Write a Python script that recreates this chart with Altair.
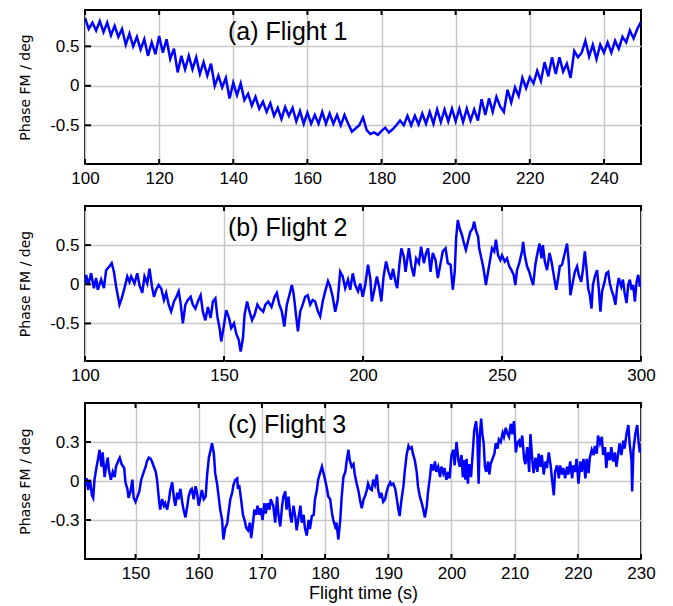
import altair as alt
import pandas as pd

# ---------------- Flight 1 ----------------
t1 = list(range(100, 251))
v1 = [0.86, 0.72, 0.80, 0.70, 0.82, 0.68, 0.80, 0.64, 0.76, 0.62,
      0.72, 0.52, 0.66, 0.50, 0.62, 0.46, 0.59, 0.38, 0.55, 0.40,
      0.63, 0.42, 0.59, 0.34, 0.47, 0.17, 0.38, 0.21, 0.38, 0.21,
      0.36, 0.15, 0.30, 0.13, 0.28, 0.00, 0.13, -0.02, 0.10, -0.16,
      0.04, -0.12, 0.03, -0.18, -0.10, -0.25, -0.14, -0.29, -0.20, -0.33,
      -0.22, -0.38, -0.28, -0.42, -0.27, -0.38, -0.28, -0.45, -0.32, -0.48,
      -0.34, -0.48, -0.37, -0.48, -0.33, -0.48, -0.35, -0.48, -0.37, -0.50,
      -0.37, -0.48, -0.58, -0.54, -0.50, -0.40, -0.56, -0.61, -0.59, -0.62,
      -0.57, -0.53, -0.59, -0.55, -0.50, -0.44, -0.50, -0.38, -0.50, -0.38,
      -0.49, -0.35, -0.48, -0.33, -0.48, -0.30, -0.46, -0.30, -0.45, -0.29,
      -0.45, -0.29, -0.46, -0.29, -0.44, -0.30, -0.44, -0.17, -0.37, -0.16,
      -0.33, -0.14, -0.26, -0.33, -0.05, -0.21, -0.02, -0.13, 0.10, -0.03,
      0.11, 0.03, 0.19, 0.06, 0.30, 0.12, 0.36, 0.15, 0.36, 0.18,
      0.28, 0.10, 0.44, 0.36, 0.42, 0.57, 0.37, 0.52, 0.34, 0.52,
      0.42, 0.55, 0.42, 0.57, 0.47, 0.62, 0.55, 0.70, 0.60, 0.72,
      0.81]

# ---------------- Flight 2 ----------------
t2 = [100.0, 100.4, 101.2, 102.2, 103.2, 104.0, 104.6, 105.8, 106.8, 107.6,
      108.8, 109.6, 110.4, 111.2, 112.4, 113.2, 114.2, 115.2, 116.0, 116.6,
      117.8, 118.8, 119.6, 120.6, 121.4, 122.4, 123.2, 124.1, 124.8, 125.6,
      126.5, 127.4, 128.4, 129.2, 130.1, 131.0, 132.0, 132.9, 133.7, 134.4,
      135.2, 136.1, 137.0, 138.0, 138.8, 139.7, 140.6, 141.6, 142.4, 143.3,
      144.2, 145.2, 146.0, 146.9, 147.6, 148.4, 149.0, 150.0, 150.8, 151.8,
      152.6, 153.6, 154.4, 155.3, 156.0, 156.8, 157.4, 158.3, 159.2, 160.1,
      161.0, 162.0, 162.9, 164.1, 164.9, 165.9, 167.1,
      168.2, 169.0, 169.9, 170.8, 171.7, 172.6, 173.5, 174.4, 175.0, 175.9,
      176.6, 177.4, 178.3, 179.2, 180.1, 181.0, 181.9, 182.8, 183.8, 184.6,
      185.5, 186.4, 187.4, 188.2, 189.1, 190.0, 190.9, 191.8, 192.7, 193.6,
      194.6, 195.4, 196.3, 197.2, 198.2, 199.0, 199.9, 200.8, 201.8, 202.6,
      203.2, 204.2, 205.0, 205.9, 206.6, 207.4, 208.3, 209.2, 210.1, 210.8,
      211.7, 212.3, 213.1, 213.8, 214.7, 215.3, 215.9, 216.5, 217.4, 218.3,
      219.1, 220.1, 220.9, 221.9, 222.7, 223.4, 224.3, 225.1, 226.1, 226.9,
      227.9, 228.7, 229.7, 230.5, 231.5, 232.3, 233.0, 233.5, 234.1, 234.8,
      235.6, 236.2, 237.0, 237.7, 238.6, 239.4, 240.0, 240.6, 241.4, 241.8,
      242.6, 243.2, 243.8, 244.2, 245.0, 245.8, 246.4, 247.2, 247.8, 248.6,
      249.4, 250.0, 251.0, 251.8, 252.6, 253.4, 254.2, 254.8, 255.4, 256.2,
      257.2, 257.6, 258.2, 259.0, 259.8, 260.6, 261.2, 262.0, 262.6, 263.5,
      264.2, 264.7, 265.4, 266.2, 267.1, 267.8, 268.6, 269.5, 270.2, 270.8,
      271.6, 272.6, 273.4, 274.0, 274.6, 275.5, 276.2, 277.0, 277.6, 278.5,
      279.1, 279.8, 280.4, 281.0, 281.6, 282.2, 282.7, 283.4, 284.2, 284.8,
      285.4, 286.0, 286.9, 287.5, 288.2, 288.8, 289.4, 290.2, 290.8, 291.4,
      292.0, 292.9, 293.5, 294.1, 294.8, 295.4, 296.0, 296.6, 297.2, 297.8,
      298.4, 299.0, 299.6, 300.0]
v2 = [0.01, 0.12, -0.01, 0.14, -0.05, 0.08, -0.07, 0.06, -0.05, 0.18,
      0.23, 0.27, 0.16, -0.03, -0.26, -0.18, -0.05, 0.10, 0.03, 0.10,
      0.01, 0.14, -0.01, -0.11, 0.10, 0.01, 0.20, -0.03, -0.16, -0.07,
      -0.01, -0.05, -0.20, -0.11, -0.26, -0.35, -0.22, -0.16, -0.09, -0.24,
      -0.50, -0.26, -0.20, -0.16, -0.26, -0.31, -0.22, -0.14, -0.35, -0.46,
      -0.29, -0.43, -0.22, -0.18, -0.41, -0.56, -0.73, -0.52, -0.33, -0.43,
      -0.56, -0.50, -0.63, -0.71, -0.86, -0.69, -0.39, -0.22, -0.35, -0.46,
      -0.39, -0.26, -0.31, -0.35, -0.26, -0.22, -0.29,
      -0.16, -0.11, -0.26, -0.35, -0.54, -0.26, -0.14, -0.01, -0.11, -0.39,
      -0.60, -0.35, -0.26, -0.16, -0.14, -0.26, -0.20, -0.22, -0.35, -0.41,
      -0.22, -0.09, 0.04, -0.03, -0.16, -0.35, -0.20, 0.16, 0.10, -0.05,
      0.06, -0.07, 0.14, -0.01, -0.09, 0.01, -0.16, -0.01, 0.25, 0.08,
      -0.22, -0.05, 0.10, -0.05, -0.22, 0.10, 0.29, 0.16, 0.06, 0.20,
      0.03, -0.05, 0.25, 0.46, 0.35, 0.16, 0.31, 0.46, 0.23, 0.10,
      0.33, 0.27, 0.48, 0.27, 0.40, 0.46, 0.16, 0.40, 0.31, 0.08,
      0.27, 0.42, 0.46, 0.27, 0.25, -0.07, 0.16, 0.59, 0.82, 0.71,
      0.63, 0.54, 0.44, 0.54, 0.67, 0.71, 0.80, 0.69, 0.61, 0.46,
      0.33, 0.23, 0.10, -0.01, 0.16, 0.33, 0.46, 0.42, 0.57, 0.37,
      0.31, 0.37, 0.29, 0.33, 0.23, 0.18, 0.12, -0.01, 0.18, 0.27,
      0.42, 0.54, 0.37, 0.23, 0.16, 0.06, -0.01, 0.25, 0.37, 0.52,
      0.33, 0.50, 0.29, 0.18, 0.40, 0.29, 0.12, -0.07, 0.08, 0.23,
      0.25, 0.40, 0.52, 0.29, -0.14, 0.03, 0.16, 0.23, 0.12, 0.03,
      0.18, 0.42, 0.20, -0.05, -0.14, -0.31, -0.01, 0.10, 0.18, -0.05,
      -0.35, -0.09, 0.03, 0.14, 0.16, 0.01, -0.07, -0.16, -0.26, -0.05,
      0.08, -0.03, 0.06, -0.11, -0.24, -0.01, 0.06, -0.07, -0.01, -0.22,
      0.03, 0.12, -0.03, 0.01]

# ---------------- Flight 3 ----------------
t3 = [142.0, 142.3, 142.5, 142.8, 143.1, 143.3, 143.5, 143.8, 144.1, 144.3,
      144.6, 144.8, 145.1, 145.4, 145.6, 145.8, 146.1, 146.4, 146.7, 146.9,
      147.3, 147.5, 147.8, 148.2, 148.4, 148.7, 148.9, 149.2, 149.5, 149.7,
      150.0, 150.3, 150.6, 150.9, 151.3, 151.6, 151.8, 152.1, 152.4, 152.6,
      152.9, 153.2, 153.4, 153.7, 153.9, 154.2, 154.5, 154.7, 155.0, 155.3,
      155.5, 155.8, 156.1, 156.3, 156.6, 156.8, 157.1, 157.4, 157.6, 157.9,
      158.2, 158.4, 158.7, 158.9, 159.2, 159.5, 159.7, 160.0, 160.3, 160.5,
      160.8, 161.1, 161.3, 161.6, 161.8, 162.1, 162.4, 162.6, 162.9, 163.2,
      163.4, 163.7, 163.9, 164.2, 164.5, 164.7, 165.0, 165.3, 165.5, 165.8,
      166.1, 166.2, 166.4, 166.7, 167.0, 167.3, 167.5, 167.8, 168.1, 168.3,
      168.6, 168.8, 169.1, 169.3, 169.6, 169.8, 170.1, 170.4, 170.6, 170.9,
      171.2, 171.4,
      171.8, 172.1, 172.4, 172.6, 172.9, 173.2, 173.4, 173.7, 173.9, 174.2,
      174.5, 174.7, 175.0, 175.3, 175.5, 175.8, 176.1, 176.3, 176.6, 176.8,
      177.1, 177.4, 177.6, 177.9, 178.2, 178.4, 178.7, 178.9, 179.2, 179.5,
      179.7, 180.0, 180.3, 180.5, 180.8, 181.1, 181.3, 181.6, 181.8, 182.1,
      182.4, 182.6, 182.9, 183.2, 183.4, 183.7, 183.9, 184.2, 184.5, 184.7,
      185.0, 185.3, 185.5, 185.8, 186.1, 186.3, 186.6, 186.8, 187.1, 187.4,
      187.6, 187.9, 188.2, 188.4, 188.7, 188.9, 189.2, 189.5, 189.7, 190.0,
      190.3, 190.5, 190.8, 191.1, 191.3, 191.6, 191.8, 192.1, 192.4, 192.6,
      192.9, 193.2, 193.4, 193.7, 193.9, 194.2, 194.5, 194.7, 195.0, 195.3,
      195.5, 195.8, 196.1, 196.3, 196.6, 196.8, 197.1, 197.4, 197.6, 197.9,
      198.2, 198.4, 198.7, 198.9, 199.2, 199.5, 199.7, 200.0, 200.3, 200.5,
      200.8, 201.1, 201.3, 201.6, 201.8,
      202.0, 202.2, 202.4, 202.6, 202.8, 203.1, 203.4, 203.6, 203.9, 204.1,
      204.3, 204.5, 204.7, 204.9, 205.1, 205.3, 205.5, 205.8, 206.0, 206.2,
      206.5, 206.8, 207.0, 207.3, 207.5, 207.8, 208.1, 208.3, 208.6, 208.8,
      209.1, 209.4, 209.6, 209.9, 210.2, 210.4, 210.7, 210.9, 211.2, 211.5,
      211.7, 212.0, 212.3, 212.5, 212.8, 213.0, 213.3, 213.6, 213.8, 214.1,
      214.3, 214.6, 214.9, 215.1, 215.4, 215.7, 215.9, 216.2, 216.4, 216.7,
      217.0, 217.2, 217.5, 217.7, 218.0, 218.3, 218.5, 218.8, 219.1, 219.3,
      219.6, 219.8, 220.1, 220.4, 220.6, 220.9, 221.2, 221.4, 221.7, 221.9,
      222.2, 222.5, 222.7, 223.0, 223.2, 223.5, 223.8, 224.0, 224.3, 224.5,
      224.8, 225.1, 225.3, 225.6, 225.9, 226.1, 226.4, 226.6, 226.9, 227.2,
      227.4, 227.7, 228.0, 228.2, 228.5, 228.6, 228.8, 229.1, 229.4, 229.6,
      229.8, 230.0]
v3 = [-0.04, 0.02, -0.07, 0.01, -0.11, -0.13, 0.01, 0.10, 0.18, 0.24,
      0.11, 0.22, 0.03, 0.13, 0.18, 0.08, 0.01, 0.07, 0.03, 0.11,
      0.16, 0.18, 0.13, 0.10, -0.01, -0.06, -0.13, -0.08, 0.01, -0.13,
      -0.16, -0.12, -0.08, 0.01, 0.07, 0.11, 0.15, 0.18, 0.17, 0.15,
      0.11, 0.07, 0.01, -0.14, -0.22, -0.14, -0.19, -0.17, -0.22, -0.14,
      -0.07, -0.01, -0.14, -0.19, -0.09, -0.14, -0.06, -0.17, -0.22, -0.28,
      -0.19, -0.12, -0.07, -0.06, -0.14, -0.04, -0.08, -0.19, -0.12, -0.07,
      -0.14, -0.12, 0.03, 0.18, 0.22, 0.29, 0.21, 0.06, -0.02, -0.14,
      -0.22, -0.30, -0.45, -0.36, -0.33, -0.25, -0.14, -0.09, -0.03, 0.01,
      0.02, -0.06, -0.03, -0.14, -0.26, -0.31, -0.36, -0.38, -0.32, -0.44,
      -0.32, -0.22, -0.26, -0.19, -0.26, -0.21, -0.30, -0.17, -0.25, -0.17,
      -0.22, -0.14,
      -0.19, -0.32, -0.12, -0.25, -0.35, -0.19, -0.12, -0.08, -0.22, -0.12,
      -0.27, -0.32, -0.19, -0.28, -0.38, -0.28, -0.19, -0.32, -0.26, -0.36,
      -0.42, -0.30, -0.37, -0.27, -0.26, -0.14, -0.07, 0.01, 0.06, 0.11,
      0.07, 0.01, -0.06, -0.12, -0.14, -0.25, -0.30, -0.35, -0.32, -0.45,
      -0.30, -0.14, 0.03, 0.07, 0.15, 0.24, 0.16, 0.11, 0.13, 0.05,
      -0.02, -0.08, -0.14, -0.21, -0.14, -0.12, -0.07, -0.02, -0.06, -0.07,
      0.01, -0.03, 0.05, -0.07, -0.13, -0.09, -0.16, -0.14, -0.09, -0.04,
      -0.01, -0.03, -0.02, -0.06, -0.12, -0.22, -0.27, -0.14, -0.04, 0.07,
      0.20, 0.27, 0.25, 0.26, 0.21, 0.16, 0.07, -0.04, -0.12, -0.17,
      -0.21, -0.28, -0.19, -0.08, 0.03, 0.13, 0.08, 0.15, 0.07, 0.11,
      0.03, 0.11, 0.06, 0.10, 0.01, 0.07, 0.02, 0.20, 0.24, 0.12,
      0.30, 0.16, 0.11, 0.20, 0.03,
      0.16, 0.01, 0.17, -0.02, 0.13, 0.03, 0.24, 0.39, 0.46, 0.34,
      -0.02, 0.36, 0.48, 0.36, 0.29, 0.11, 0.07, 0.15, 0.05, 0.13,
      0.17, 0.21, 0.29, 0.25, 0.32, 0.30, 0.37, 0.34, 0.41, 0.37,
      0.34, 0.44, 0.36, 0.46, 0.22, 0.29, 0.31, 0.26, 0.35, 0.17,
      0.13, 0.26, 0.07, 0.36, 0.16, 0.06, 0.18, 0.07, 0.21, 0.11,
      0.20, 0.05, 0.15, 0.10, 0.22, 0.12, 0.02, -0.11, 0.07, 0.12,
      0.02, 0.12, 0.05, 0.10, 0.02, 0.11, 0.05, 0.15, 0.02, 0.12,
      0.07, 0.17, -0.02, 0.15, 0.07, 0.17, 0.02, 0.17, 0.06, 0.18,
      0.24, 0.20, 0.27, 0.21, 0.35, 0.29, 0.34, 0.20, 0.26, 0.10,
      0.22, 0.16, 0.26, 0.15, 0.22, 0.11, 0.21, 0.29, 0.20, 0.31,
      0.25, 0.36, 0.43, 0.29, 0.16, -0.08, 0.24, 0.36, 0.43, 0.31,
      0.22, 0.25]

# axis ticks / labels
x1_ticks = [100, 120, 140, 160, 180, 200, 220, 240]
x2_ticks = [100, 150, 200, 250, 300]
x3_ticks = [150, 160, 170, 180, 190, 200, 210, 220, 230]
y12_ticks = [-0.5, 0, 0.5]
y3_ticks = [-0.3, 0, 0.3]

titles = ["(a) Flight 1", "(b) Flight 2", "(c) Flight 3"]

W = 556
FONT = "Liberation Sans"


def panel(t, v, xdom, ydom, xticks, yticks, label, h, xtitle=None):
    df = pd.DataFrame({"t": t, "v": v})
    xs = alt.Scale(domain=xdom, nice=False, zero=False)
    ys = alt.Scale(domain=ydom, nice=False, zero=False)
    xaxis = alt.Axis(values=xticks, labelExpr="'' + datum.value", labelFlush=False,
                     title=xtitle if xtitle else None)
    yaxis = alt.Axis(values=yticks, labelExpr="'' + datum.value", title="Phase FM / deg")

    def X(field):
        return alt.X(field, scale=xs, axis=xaxis)

    def Y(field):
        return alt.Y(field, scale=ys, axis=yaxis)

    line = alt.Chart(df).mark_line(color="#0000ff", strokeWidth=2.5, clip=True).encode(
        x=X("t:Q"), y=Y("v:Q"))
    xt = pd.DataFrame({"x": xticks})
    yt = pd.DataFrame({"y": yticks})
    top = alt.Chart(xt).mark_rule(color="black", strokeWidth=2).encode(
        x=X("x:Q"), y=alt.value(0), y2=alt.value(5))
    bottom = alt.Chart(xt).mark_rule(color="black", strokeWidth=2).encode(
        x=X("x:Q"), y=alt.value(h), y2=alt.value(h - 5))
    left = alt.Chart(yt).mark_rule(color="black", strokeWidth=2).encode(
        y=Y("y:Q"), x=alt.value(0), x2=alt.value(6))
    txt = alt.Chart(pd.DataFrame({"s": [label]})).mark_text(
        align="left", baseline="alphabetic", fontSize=25, font=FONT, color="black"
    ).encode(x=alt.value(143), y=alt.value(30), text="s:N")
    return alt.layer(line, top, bottom, left, txt).properties(width=W, height=h)


p1 = panel(t1, v1, [100, 250], [-0.99, 0.96], x1_ticks, y12_ticks, titles[0], 154)
p2 = panel(t2, v2, [100, 300], [-0.98, 1.0], x2_ticks, y12_ticks, titles[1], 155)
p3 = panel(t3, v3, [142, 230], [-0.6, 0.6], x3_ticks, y3_ticks, titles[2], 156,
           xtitle="Flight time (s)")

chart = alt.vconcat(p1, p2, p3, spacing=17).properties(
    padding={"left": 9, "top": 0, "right": 5, "bottom": 0}
).configure_view(
    stroke="black", strokeWidth=2
).configure_axis(
    grid=True, gridColor="#c8c8c8", gridWidth=1.5, ticks=False, domain=False,
    labelFont=FONT, labelFontSize=17, labelColor="black", labelPadding=6,
    titleFont=FONT, titleColor="black", titleFontWeight="normal",
).configure_axisY(
    titleFont="DejaVu Sans", titleFontSize=14, titlePadding=17,
).configure_axisX(
    titleFontSize=18, titlePadding=3,
)

chart.save("out.html", embed_options={"renderer": "svg", "actions": False})
